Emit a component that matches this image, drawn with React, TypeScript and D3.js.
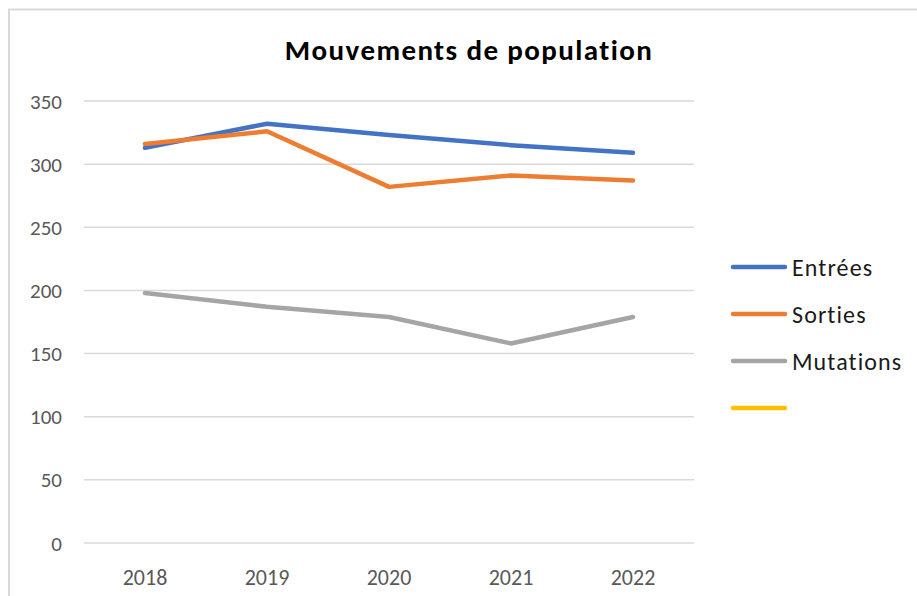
import { useEffect, useRef } from "react"
import * as d3 from "d3"

const years = ["2018", "2019", "2020", "2021", "2022"]
const entrees = [313, 332, 323, 315, 309]
const sorties = [316, 326, 282, 291, 287]
const mutations = [198, 187, 179, 158, 179]
const yTicks = [0, 50, 100, 150, 200, 250, 300, 350]

const seriesNames = ["Entrées", "Sorties", "Mutations", ""]
const seriesColors = ["#4472C4", "#ED7D31", "#A5A5A5", "#FFC000"]

export default function App() {
  const svgRef = useRef<SVGSVGElement>(null)

  useEffect(() => {
    if (!svgRef.current) return
    const svg = d3.select(svgRef.current)
    svg.selectAll("*").remove()

    const width = 917
    const height = 596
    const font = "Carlito, Calibri, Lato, 'Open Sans', sans-serif"

    svg.append("rect").attr("width", width).attr("height", height).attr("fill", "#fff")

    // outer chart border
    svg.append("rect")
      .attr("x", 9).attr("y", 9.5)
      .attr("width", width).attr("height", height)
      .attr("fill", "none").attr("stroke", "#d9d9d9").attr("stroke-width", 2)

    const x = d3.scaleBand().domain(years).range([84, 694])
    const y = d3.scaleLinear().domain([0, 350]).range([543, 101])

    // gridlines
    svg.append("g")
      .selectAll("line")
      .data(yTicks)
      .join("line")
      .attr("x1", 84).attr("x2", 694)
      .attr("y1", d => y(d)).attr("y2", d => y(d))
      .attr("stroke", "#d9d9d9").attr("stroke-width", 1.5)

    // y labels
    svg.append("g")
      .selectAll("text")
      .data(yTicks)
      .join("text")
      .attr("x", 62).attr("y", d => y(d))
      .attr("dy", "0.36em")
      .attr("text-anchor", "end")
      .attr("font-family", font).attr("font-size", 21)
      .attr("fill", "#595959")
      .text(d => d)

    // x labels
    svg.append("g")
      .selectAll("text")
      .data(years)
      .join("text")
      .attr("x", d => (x(d) ?? 0) + x.bandwidth() / 2)
      .attr("y", 585)
      .attr("text-anchor", "middle")
      .attr("font-family", font).attr("font-size", 22)
      .attr("fill", "#595959")
      .text(d => d)

    // title
    svg.append("text")
      .attr("x", 469).attr("y", 60)
      .attr("text-anchor", "middle")
      .attr("font-family", font).attr("font-size", 29).attr("font-weight", "bold")
      .attr("letter-spacing", 1.4)
      .attr("fill", "#000")
      .text("Mouvements de population")

    const line = d3.line<number>()
      .x((_, i) => (x(years[i]) ?? 0) + x.bandwidth() / 2)
      .y(d => y(d))

    const allSeries = [entrees, sorties, mutations]
    // Sorties drawn last so it sits above Entrées at 2018
    ;[2, 0, 1].forEach(i => {
      svg.append("path")
        .datum(allSeries[i])
        .attr("fill", "none")
        .attr("stroke", seriesColors[i])
        .attr("stroke-width", 4.5)
        .attr("stroke-linejoin", "round")
        .attr("stroke-linecap", "round")
        .attr("d", line)
    })

    // legend
    const legend = svg.append("g")
    seriesNames.forEach((name, i) => {
      const ly = 267 + i * 47
      legend.append("line")
        .attr("x1", 733).attr("x2", 785)
        .attr("y1", ly).attr("y2", ly)
        .attr("stroke", seriesColors[i]).attr("stroke-width", 4.5)
        .attr("stroke-linecap", "round")
      legend.append("text")
        .attr("x", 792).attr("y", ly)
        .attr("dy", "0.36em")
        .attr("font-family", font).attr("font-size", 24)
        .attr("letter-spacing", 1.1)
        .attr("fill", "#1a1a1a")
        .text(name)
    })
  }, [])

  return <svg ref={svgRef} width={917} height={596} style={{ position: "absolute", left: 0, top: 0 }} />
}
